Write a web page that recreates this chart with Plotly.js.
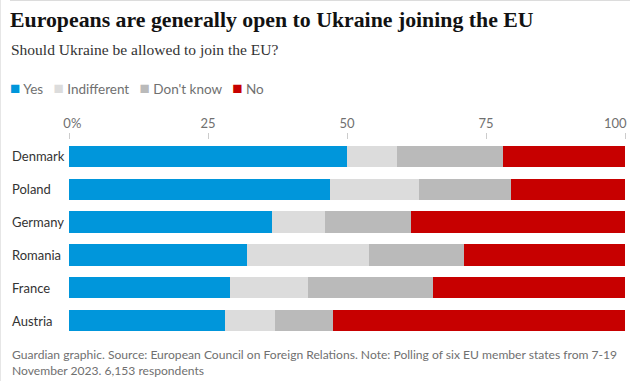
<!DOCTYPE html>
<html>
<head>
<meta charset="utf-8">
<script src="https://cdn.plot.ly/plotly-3.0.1.min.js"></script>
<style>html,body{margin:0;padding:0;background:#fff;}#chart{width:630px;height:381px;}</style>
</head>
<body>
<div id="chart"></div>
<script>
// ---- data ----
const countries = ["Denmark", "Poland", "Germany", "Romania", "France", "Austria"];
const seriesNames = ["Yes", "Indifferent", "Don't know", "No"];
const yesVals = [50, 47, 36.5, 32, 29, 28];
const indifferentVals = [9, 16, 9.5, 22, 14, 9];
const dontKnowVals = [19, 16.5, 15.5, 17, 22.5, 10.5];
const noVals = [22, 20.5, 38.5, 29, 34.5, 52.5];
const tickVals = [0, 25, 50, 75, 100];
const tickLabels = ["0%", "25", "50", "75", "100"];
const colors = ["#0096db", "#dcdcdc", "#bababa", "#c70000"];

const SANS = "Lato, 'Noto Sans', sans-serif";
const SERIF = "'Liberation Serif', 'DejaVu Serif', serif";

const values = [yesVals, indifferentVals, dontKnowVals, noVals];
const traces = seriesNames.map((name, i) => ({
  type: "bar",
  orientation: "h",
  name: name,
  y: countries,
  x: values[i],
  marker: { color: colors[i], line: { width: 0 } },
  hoverinfo: "x+name",
  showlegend: false
}));

// geometry helpers (plot area in px)
const W = 630, H = 381;
const M = { l: 69, r: 5, t: 140, b: 44 };
const pw = W - M.l - M.r, ph = H - M.t - M.b;
const px = x => (x - M.l) / pw;
const py = y => (H - M.b - y) / ph;

const NB = "&nbsp;";
const last = tickLabels.length - 1;
// main axis: all labels except the last (nudged first label); last label is right-aligned to its tick
const mainTickText = tickLabels.map((t, i) => i === 0 ? NB.repeat(2) + t : (i === last ? "" : t));

const legendText = seriesNames.map((n, i) =>
  `<span style="color:${colors[i]};font-size:17px">■</span> ${n}`).join(NB.repeat(3));

const tickFont = { family: SANS, size: 13, color: "#707070" };

const annotations = countries.map(c => ({
  xref: "paper", yref: "y", x: px(10), y: c, xanchor: "left", yanchor: "middle",
  text: c, showarrow: false, font: { family: SANS, size: 13, color: "#333333" }
}));
annotations.push({
  xref: "x", yref: "paper", x: tickVals[last], y: py(123.5), xanchor: "right", yanchor: "middle",
  xshift: 4, text: tickLabels[last], showarrow: false, font: tickFont
});
annotations.push({
  xref: "paper", yref: "paper", x: px(9), y: py(50), xanchor: "left", yanchor: "middle",
  text: "Should Ukraine be allowed to join the EU?", showarrow: false,
  font: { family: SERIF, size: 15.5, color: "#333333" }
});
annotations.push({
  xref: "paper", yref: "paper", x: px(8), y: py(87.5), xanchor: "left", yanchor: "middle",
  text: legendText, showarrow: false,
  font: { family: SANS, size: 13.5, color: "#707070" }
});
annotations.push({
  xref: "paper", yref: "paper", x: px(10), y: py(345), xanchor: "left", yanchor: "top",
  align: "left",
  text: "Guardian graphic. Source: European Council on Foreign Relations. Note: Polling of six EU member states from 7-19<br>November 2023. 6,153 respondents",
  showarrow: false, font: { family: SANS, size: 12.1, color: "#707070" }
});

const layout = {
  width: W, height: H,
  margin: M,
  paper_bgcolor: "#ffffff", plot_bgcolor: "#ffffff",
  barmode: "stack",
  bargap: 0.35,
  title: {
    text: "<b>Europeans are generally open to Ukraine joining the EU</b>",
    xref: "container", yref: "container", x: 10 / W, xanchor: "left",
    y: 1 - 19 / H, yanchor: "middle",
    font: { family: SERIF, size: 21.8, color: "#121212" }
  },
  xaxis: {
    side: "top", range: [0, 100], fixedrange: true,
    tickvals: tickVals, ticktext: mainTickText,
    ticks: "outside", ticklen: 6, tickcolor: "#cccccc", tickwidth: 1,
    showgrid: false, zeroline: false, showline: false,
    tickfont: tickFont
  },
  yaxis: {
    type: "category", autorange: "reversed", fixedrange: true,
    showticklabels: false, showgrid: false, zeroline: false, showline: false, ticks: ""
  },
  annotations: annotations,
  shapes: [
    { type: "line", xref: "paper", yref: "paper", x0: px(10), x1: px(630), y0: py(0.5), y1: py(0.5),
      line: { color: "#dcdcdc", width: 1 } },
    { type: "line", xref: "paper", yref: "paper", x0: px(0.5), x1: px(0.5), y0: py(0), y1: py(381),
      line: { color: "#e6e6e6", width: 1 } }
  ],
  showlegend: false
};

Plotly.newPlot("chart", traces, layout, { displayModeBar: false, staticPlot: true });
</script>
</body>
</html>
